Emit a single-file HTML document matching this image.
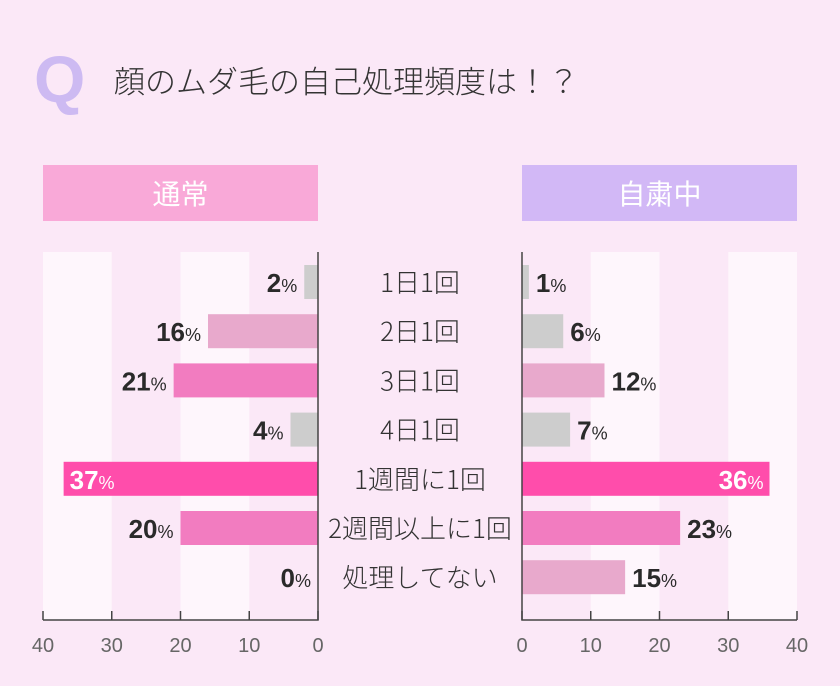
<!DOCTYPE html>
<html><head><meta charset="utf-8"><style>
body{margin:0;width:840px;height:686px;background:#fbe8f7;overflow:hidden;font-family:"Liberation Sans","Noto Sans CJK JP",sans-serif}
.t{position:absolute}
</style></head><body>
<div class="t" style="left:34px;top:46px;font-size:66px;font-weight:bold;color:#cdbaf2;line-height:66px">Q</div>
<div class="t" style="left:114px;top:58px;font-size:31px;color:#333;font-family:'Noto Sans CJK JP',sans-serif;font-weight:300;line-height:44px">顔のムダ毛の自己処理頻度は！？</div>
<div class="t" style="left:43px;top:165px;width:275px;height:56px;background:#f9a9d8;color:#fff;font-size:28px;text-align:center;line-height:56px;font-family:'Noto Sans CJK JP',sans-serif">通常</div>
<div class="t" style="left:522px;top:165px;width:275px;height:56px;background:#d2b8f6;color:#fff;font-size:28px;text-align:center;line-height:56px;font-family:'Noto Sans CJK JP',sans-serif">自粛中</div>
<svg id="c" width="840" height="686" style="position:absolute;left:0;top:0"></svg>
<script>
const categories=["1日1回","2日1回","3日1回","4日1回","1週間に1回","2週間以上に1回","処理してない"];
const normalValues=[2,16,21,4,37,20,0];
const restraintValues=[1,6,12,7,36,23,15];
const normalColors=["gray","light","mid","gray","strong","mid","light"];
const restraintColors=["gray","gray","light","gray","strong","mid","light"];
const ticks=[0,10,20,30,40];
const pal={gray:"#cdcdcd",light:"#e8a9cc",mid:"#f27cc0",strong:"#ff4dab"};
const NS="http://www.w3.org/2000/svg",svg=document.getElementById('c');
function mk(t,a,p){const e=document.createElementNS(NS,t);for(const k in a)e.setAttribute(k,a[k]);(p||svg).appendChild(e);return e;}
const s=275/40;
const xL=v=>318-v*s, xR=v=>522+v*s;
const yC=i=>282+i*49.2;
const yTop=252,yBot=620;
[[xL(40),xL(30)],[xL(20),xL(10)],[xR(10),xR(20)],[xR(30),xR(40)]].forEach(p=>{
 const r=mk('rect',{x:Math.min(p[0],p[1]),y:yTop,width:Math.abs(p[1]-p[0]),height:yBot-yTop,fill:"#fef6fc"});
 
 
});
function side(vals,cols,xf,right){
 vals.forEach((v,i)=>{
  const x0=xf(0),x1=xf(v),y=yC(i);
  const r=mk('rect',{x:Math.min(x0,x1),y:y-17,width:Math.abs(x1-x0),height:34,fill:pal[cols[i]]});
  
  
  const inside=v>=30;
  let tx,anc,fill="#2a2a2a";
  if(inside){fill="#fff";tx=right?x1-6:x1+6;anc=right?"end":"start";}
  else{tx=right?x1+7:x1-7;anc=right?"start":"end";}
  const t=mk('text',{x:tx,y:y+10,"text-anchor":anc,fill:fill,"font-size":26,"font-weight":"bold"});
  
  
  t.innerHTML=v+'<tspan font-size="18" font-weight="normal">%</tspan>';
 });
 const ax=mk('path',{d:`M${xf(0)} ${yTop}V${yBot}H${xf(40)}`,stroke:"#444",fill:"none","stroke-width":1.5});
 
 
 ticks.forEach(tv=>{
  const l=mk('line',{x1:xf(tv),x2:xf(tv),y1:yBot-9,y2:yBot,stroke:"#444","stroke-width":1.5});
  
  
  const t=mk('text',{x:xf(tv),y:yBot+32,"text-anchor":"middle",fill:"#666","font-size":20});
  
  
  t.textContent=tv;
 });
}
side(normalValues,normalColors,xL,false);
side(restraintValues,restraintColors,xR,true);
categories.forEach((c,i)=>{
 const t=mk('text',{x:420,y:yC(i)+10,"text-anchor":"middle",fill:"#333","font-size":26,"font-family":"Noto Sans CJK JP","font-weight":300});
 
 
 t.textContent=c;
});
</script>
</body></html>
